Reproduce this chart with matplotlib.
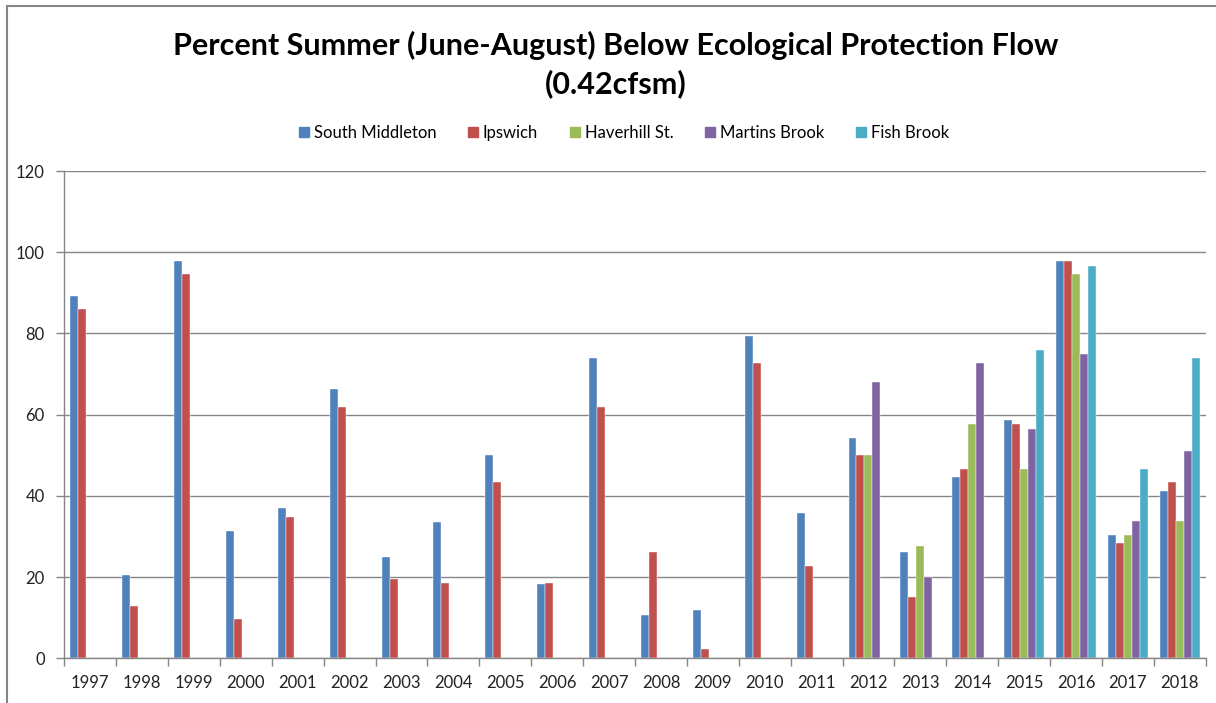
import matplotlib.pyplot as plt
import matplotlib.patches as mpatches
import numpy as np

years = [str(y) for y in range(1997, 2019)]
nan = np.nan
south_middleton = [89.2, 20.6, 97.9, 31.4, 36.9, 66.3, 25.0, 33.6, 50.0, 18.4, 73.9,
                   10.7, 12.0, 79.3, 35.9, 54.3, 26.1, 44.6, 58.7, 97.8, 30.4, 41.3]
ipswich = [85.9, 13.0, 94.6, 9.8, 34.8, 62.0, 19.6, 18.5, 43.5, 18.5, 62.0,
           26.1, 2.2, 72.8, 22.8, 50.0, 15.2, 46.7, 57.6, 97.8, 28.3, 43.5]
haverhill = [nan] * 15 + [50.0, 27.7, 57.6, 46.7, 94.6, 30.4, 33.7]
martins = [nan] * 15 + [68.0, 20.0, 72.8, 56.5, 75.0, 33.7, 51.1]
fish = [nan] * 18 + [75.9, 96.7, 46.7, 73.9]

series = [("South Middleton", south_middleton, "#4F81BD"),
          ("Ipswich", ipswich, "#C0504D"),
          ("Haverhill St.", haverhill, "#9BBB59"),
          ("Martins Brook", martins, "#8064A2"),
          ("Fish Brook", fish, "#4BACC6")]

font = ["Lato", "DejaVu Sans"]
grid_c = "#868686"

fig = plt.figure(figsize=(12.16, 7.03), dpi=100)
ax = fig.add_axes([64.3 / 1216, 1 - 658.3 / 703, (1205.7 - 64.3) / 1216, (658.3 - 171) / 703])

x = np.arange(len(years))
w = 1 / 6.5
for i, (name, vals, col) in enumerate(series):
    ax.bar(x - 2.5 * w + (i + 0.5) * w, vals, width=w, color=col, label=name,
           edgecolor="white", linewidth=0.3)

ax.set_xlim(-0.5, len(years) - 0.5)
ax.set_ylim(0, 120)
ax.set_yticks(range(0, 121, 20))
ax.yaxis.grid(True, color=grid_c, linewidth=1.0)
ax.set_axisbelow(True)
ax.set_xticks(x)
ax.set_xticklabels(years)
ax.set_xticks(np.arange(-0.5, len(years)), minor=True)
ax.tick_params(axis="x", which="major", length=0, pad=12)
ax.tick_params(axis="x", which="minor", length=6, color=grid_c, width=1.0)
ax.tick_params(axis="y", length=6, color=grid_c, width=1.0, pad=8)
for lab in ax.get_xticklabels() + ax.get_yticklabels():
    lab.set_family(font)
    lab.set_fontsize(12)
    lab.set_color("#222222")
for s in ["top", "right"]:
    ax.spines[s].set_visible(False)
for s in ["left", "bottom"]:
    ax.spines[s].set_color(grid_c)
    ax.spines[s].set_linewidth(1.0)

fig.text(0.506, 1 - 45 / 703, "Percent Summer (June-August) Below Ecological Protection Flow",
         ha="center", va="center", fontsize=22, fontweight="bold", family=font)
fig.text(0.506, 1 - 84 / 703, "(0.42cfsm)",
         ha="center", va="center", fontsize=22, fontweight="bold", family=font)

handles = [mpatches.Patch(color=c, label=n) for n, _, c in series]
fig.legend(handles=handles, loc="center", bbox_to_anchor=(0.513, 0.811), ncol=5,
           frameon=False, prop={"family": font, "size": 12}, handlelength=0.6,
           handleheight=0.6, handletextpad=0.3, columnspacing=1.9)

fig.patches.append(mpatches.Rectangle((7 / 1216, -0.1), 1.2, 1.1 - 6 / 703, fill=False,
                                      edgecolor=grid_c, linewidth=1.5,
                                      transform=fig.transFigure, figure=fig))

fig.savefig("out.png", dpi=100)
